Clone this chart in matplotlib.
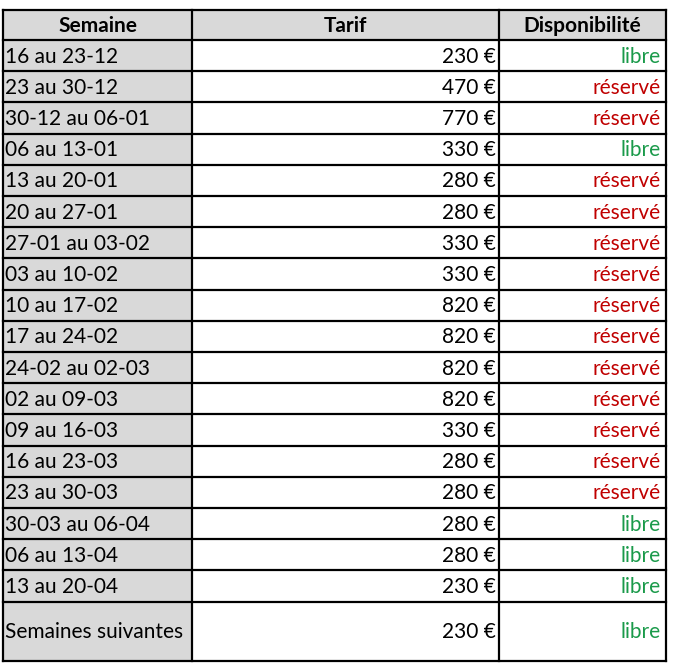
import matplotlib
matplotlib.use("Agg")
import matplotlib.pyplot as plt
from matplotlib.patches import Rectangle

semaines = ["16 au 23-12", "23 au 30-12", "30-12 au 06-01", "06 au 13-01", "13 au 20-01",
            "20 au 27-01", "27-01 au 03-02", "03 au 10-02", "10 au 17-02", "17 au 24-02",
            "24-02 au 02-03", "02 au 09-03", "09 au 16-03", "16 au 23-03", "23 au 30-03",
            "30-03 au 06-04", "06 au 13-04", "13 au 20-04", "Semaines suivantes"]
tarifs = [230, 470, 770, 330, 280, 280, 330, 330, 820, 820, 820, 820, 330, 280, 280,
          280, 280, 230, 230]
dispo = ["libre", "réservé", "réservé", "libre", "réservé", "réservé", "réservé", "réservé",
         "réservé", "réservé", "réservé", "réservé", "réservé", "réservé", "réservé",
         "libre", "libre", "libre", "libre"]
headers = ["Semaine", "Tarif", "Disponibilité"]

# layout in pixels
x0, x1, x2, x3 = 3, 192, 499, 666
top, head_bot, bottom = 10, 40, 661
row_h = 31.2
last_h = bottom - (head_bot + row_h * (len(semaines) - 1))
gray = "#d9d9d9"
colors = {"libre": "#1a9a4a", "réservé": "#c00000"}

fig = plt.figure(figsize=(6.74, 6.69), dpi=100)
ax = fig.add_axes([0, 0, 1, 1])
ax.set_xlim(0, 674)
ax.set_ylim(669, 0)
ax.axis("off")
font = dict(family="Lato", fontsize=15)

ax.add_patch(Rectangle((x0, top), x3 - x0, head_bot - top, fc=gray, ec="none"))
ax.add_patch(Rectangle((x0, head_bot), x1 - x0, bottom - head_bot, fc=gray, ec="none"))

for xl, xr, h in zip([x0, x1, x2], [x1, x2, x3], headers):
    ax.text((xl + xr) / 2, (top + head_bot) / 2 + 1, h, ha="center", va="center",
            fontweight="bold", **font)

ys = [head_bot]
for i, (s, t, d) in enumerate(zip(semaines, tarifs, dispo)):
    h = last_h if i == len(semaines) - 1 else row_h
    yc = ys[-1] + h / 2 + 1
    ax.text(x0 + 2, yc, s, ha="left", va="center", **font)
    ax.text(x2 - 3, yc, f"{t} €", ha="right", va="center", **font)
    ax.text(x3 - 5, yc, d, ha="right", va="center", color=colors[d], **font)
    ys.append(ys[-1] + h)

for y in [top] + ys:
    ax.plot([x0, x3], [y, y], color="black", lw=1.6, solid_capstyle="projecting")
for x in [x0, x1, x2, x3]:
    ax.plot([x, x], [top, bottom], color="black", lw=1.6, solid_capstyle="projecting")

fig.savefig("out.png", dpi=100)
